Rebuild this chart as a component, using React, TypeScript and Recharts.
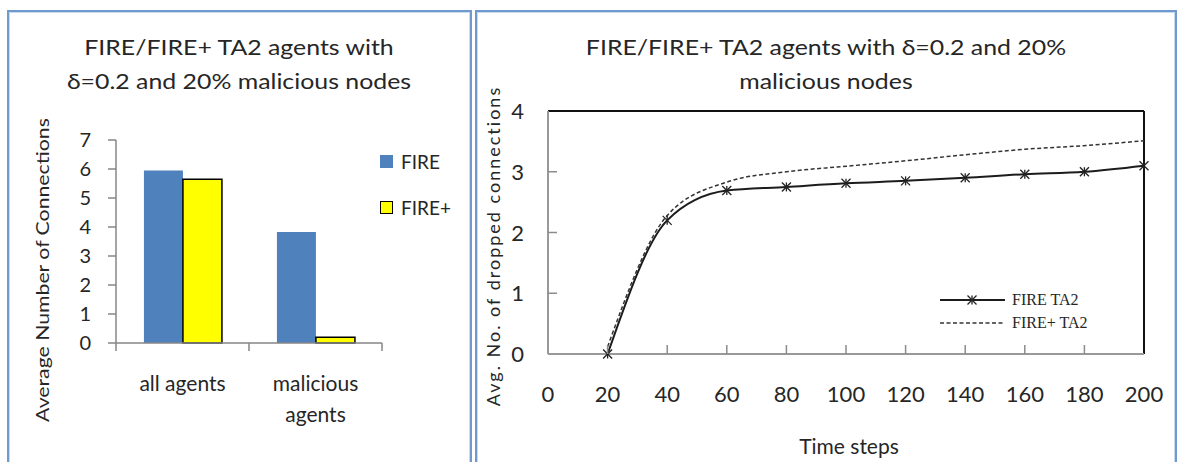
import React from 'react';
import {
  BarChart,
  Bar,
  LineChart,
  Line,
  XAxis,
  YAxis,
  ReferenceLine,
  Legend,
  Text,
} from 'recharts';

// ---- Bar chart data: average number of connections ----
const barCategories = ['all agents', 'malicious agents'];
const fireConnections = [5.95, 3.83];
const firePlusConnections = [5.65, 0.2];
const connectionTicks = [0, 1, 2, 3, 4, 5, 6, 7];

// ---- Line chart data: avg. dropped connections over time ----
const timeSteps = [20, 40, 60, 80, 100, 120, 140, 160, 180, 200];
const fireTa2Dropped = [0, 2.2, 2.69, 2.75, 2.81, 2.85, 2.9, 2.96, 3.0, 3.1];
const firePlusTa2Dropped = [0.12, 2.28, 2.83, 3.0, 3.09, 3.18, 3.28, 3.37, 3.43, 3.51];
const timeTicks = [0, 20, 40, 60, 80, 100, 120, 140, 160, 180, 200];
const droppedTicks = [0, 1, 2, 3, 4];

const barData = barCategories.map((category, i) => ({
  category,
  fire: fireConnections[i],
  firePlus: firePlusConnections[i],
}));

const lineData = timeSteps.map((step, i) => ({
  step,
  fireTa2: fireTa2Dropped[i],
  firePlusTa2: firePlusTa2Dropped[i],
}));

const SANS = 'Lato, "Open Sans", sans-serif';
const SERIF = '"Liberation Serif", "DejaVu Serif", serif';
const TEXT = '#262626';
const PANEL_BORDER = '#7099cd';

// left panel geometry
const L_W = 470;
const L_H = 462;
const L_PLOT = { left: 116, right: 382, top: 140, bottom: 343 };
const L_BAND = (L_PLOT.right - L_PLOT.left) / barCategories.length;

// right panel geometry
const R_X = 475;
const R_W = 707;
const R_H = 462;
const R_PLOT = { left: 548, right: 1144, top: 111, bottom: 354 };

const CategoryTick = (props: any) => {
  const { x, y, payload, index } = props;
  const last = index === barCategories.length - 1;
  return (
    <g>
      <line x1={x - L_BAND / 2} x2={x - L_BAND / 2} y1={y} y2={y + 8} stroke="#868686" strokeWidth={1.5} />
      {last && (
        <line x1={x + L_BAND / 2} x2={x + L_BAND / 2} y1={y} y2={y + 8} stroke="#868686" strokeWidth={1.5} />
      )}
      <Text
        x={x}
        y={y + 33}
        width={100}
        textAnchor="middle"
        verticalAnchor="start"
        lineHeight={31}
        style={{ fontFamily: SANS, fontSize: 21, fill: TEXT }}
      >
        {payload.value}
      </Text>
    </g>
  );
};

const TimeTick = (props: any) => {
  const { x, y, payload } = props;
  const v = payload.value;
  const inner = v > timeTicks[0] && v < timeTicks[timeTicks.length - 1];
  return (
    <g>
      {inner && <line x1={x} x2={x} y1={y} y2={y - 9} stroke="#8c8c8c" strokeWidth={1.5} />}
      <text x={x} y={y + 48} textAnchor="middle" style={{ fontFamily: SANS, fontSize: 22, fill: TEXT }}>
        {v}
      </text>
    </g>
  );
};

const DroppedTick = (props: any) => {
  const { x, y, payload } = props;
  const v = payload.value;
  const inner = v > droppedTicks[0] && v < droppedTicks[droppedTicks.length - 1];
  return (
    <g>
      {inner && <line x1={x} x2={x + 9} y1={y} y2={y} stroke="#8c8c8c" strokeWidth={1.5} />}
      <text x={x - 24} y={y + 8} textAnchor="end" style={{ fontFamily: SANS, fontSize: 22, fill: TEXT }}>
        {v}
      </text>
    </g>
  );
};

const StarDot = (props: any) => {
  const { cx, cy } = props;
  if (cx == null || cy == null) return null;
  const s = 4.5;
  return (
    <g stroke="#222" strokeWidth={1.3} fill="none">
      <line x1={cx - s} y1={cy - s} x2={cx + s} y2={cy + s} />
      <line x1={cx - s} y1={cy + s} x2={cx + s} y2={cy - s} />
      <line x1={cx} y1={cy - s} x2={cx} y2={cy + s} />
    </g>
  );
};

const BarLegend = (props: any) => {
  const items = props.payload || [];
  return (
    <div style={{ fontFamily: SANS, fontSize: 19, color: TEXT }}>
      {items.map((item: any, i: number) => (
        <div key={item.value} style={{ display: 'flex', alignItems: 'center', height: 46 }}>
          <span
            style={{
              display: 'inline-block',
              width: 13,
              height: 13,
              background: item.color,
              boxSizing: 'border-box',
              border: i === 1 ? '1.5px solid #000' : 'none',
              marginRight: 8,
            }}
          />
          {item.value}
        </div>
      ))}
    </div>
  );
};

const LineLegend = (props: any) => {
  const items = props.payload || [];
  return (
    <svg width={160} height={46} style={{ display: 'block' }}>
      {items.map((item: any, i: number) => {
        const y = 10 + i * 23;
        return (
          <g key={item.value}>
            <line
              x1={0}
              x2={65}
              y1={y}
              y2={y}
              stroke={i === 0 ? '#1c1c1c' : '#333'}
              strokeWidth={i === 0 ? 2 : 1.5}
              strokeDasharray={i === 0 ? undefined : '4 2.5'}
            />
            {i === 0 && <StarDot cx={32} cy={y} />}
            <text x={72} y={y + 5} style={{ fontFamily: SERIF, fontSize: 16, fill: TEXT }}>
              {item.value}
            </text>
          </g>
        );
      })}
    </svg>
  );
};

const titleStyle: React.CSSProperties = {
  position: 'absolute',
  transform: 'translateX(-50%) scaleX(1.13)',
  whiteSpace: 'nowrap',
  textAlign: 'center',
  fontFamily: SANS,
  fontSize: 22,
  lineHeight: '34px',
  color: TEXT,
};

export default function App() {
  return (
    <div style={{ position: 'absolute', left: 0, top: 0, width: 1182, height: 462, background: '#fff', overflow: 'hidden' }}>
      {/* panel frames */}
      <div
        style={{
          position: 'absolute',
          left: 7,
          top: 10,
          width: 465,
          height: 470,
          boxSizing: 'border-box',
          border: `2px solid ${PANEL_BORDER}`,
          boxShadow: 'inset 0 0 0 1px #c9d9ee',
        }}
      />
      <div
        style={{
          position: 'absolute',
          left: 475,
          top: 10,
          width: 702,
          height: 470,
          boxSizing: 'border-box',
          border: `2px solid ${PANEL_BORDER}`,
          boxShadow: 'inset 0 0 0 1px #c9d9ee',
        }}
      />

      {/* left panel */}
      <div style={{ ...titleStyle, left: 239, top: 30 }}>
        FIRE/FIRE+ TA2 agents with
        <br />
        δ=0.2 and 20% malicious nodes
      </div>
      <div
        style={{
          position: 'absolute',
          left: 42,
          top: 270,
          transform: 'translate(-50%, -50%) rotate(-90deg) scaleX(1.18)',
          whiteSpace: 'nowrap',
          fontFamily: SANS,
          fontSize: 18,
          color: TEXT,
        }}
      >
        Average Number of Connections
      </div>
      <div style={{ position: 'absolute', left: 0, top: 0 }}>
        <BarChart
          width={L_W}
          height={L_H}
          data={barData}
          margin={{ top: L_PLOT.top, right: L_W - L_PLOT.right, bottom: 0, left: 0 }}
          barCategoryGap="21%"
          barGap={0}
        >
          <XAxis
            dataKey="category"
            height={L_H - L_PLOT.bottom}
            tickSize={0}
            tickMargin={0}
            interval={0}
            axisLine={{ stroke: '#868686', strokeWidth: 1.5 }}
            tick={<CategoryTick />}
          />
          <YAxis
            width={L_PLOT.left}
            domain={[0, 7]}
            ticks={connectionTicks}
            interval={0}
            tickSize={8}
            tickMargin={17}
            axisLine={{ stroke: '#868686', strokeWidth: 1.5 }}
            tickLine={{ stroke: '#868686', strokeWidth: 1.5 }}
            tick={{ fontFamily: SANS, fontSize: 20, fill: TEXT }}
          />
          <Legend
            layout="horizontal"
            verticalAlign="middle"
            align="center"
            wrapperStyle={{ left: 380, top: 138, width: 90, height: 92 }}
            content={<BarLegend />}
          />
          <Bar dataKey="fire" name="FIRE" fill="#4f81bd" isAnimationActive={false} />
          <Bar
            dataKey="firePlus"
            name="FIRE+"
            fill="#ffff00"
            stroke="#000"
            strokeWidth={1.5}
            isAnimationActive={false}
          />
        </BarChart>
      </div>

      {/* right panel */}
      <div style={{ ...titleStyle, left: 826, top: 30 }}>
        FIRE/FIRE+ TA2 agents with δ=0.2 and 20%
        <br />
        malicious nodes
      </div>
      <div
        style={{
          position: 'absolute',
          left: 493,
          top: 246,
          transform: 'translate(-50%, -50%) rotate(-90deg)',
          whiteSpace: 'nowrap',
          fontFamily: SANS,
          fontSize: 18,
          letterSpacing: 2,
          color: TEXT,
        }}
      >
        Avg. No. of dropped connections
      </div>
      <div
        style={{
          position: 'absolute',
          left: 849,
          top: 445,
          transform: 'translate(-50%, -50%)',
          whiteSpace: 'nowrap',
          fontFamily: SANS,
          fontSize: 21,
          color: TEXT,
        }}
      >
        Time steps
      </div>
      <div style={{ position: 'absolute', left: R_X, top: 0 }}>
        <LineChart
          width={R_W}
          height={R_H}
          data={lineData}
          margin={{ top: R_PLOT.top, right: R_X + R_W - R_PLOT.right, bottom: 0, left: 0 }}
        >
          <XAxis
            type="number"
            dataKey="step"
            domain={[0, 200]}
            ticks={timeTicks}
            interval={0}
            height={R_H - R_PLOT.bottom}
            tickSize={0}
            tickMargin={0}
            axisLine={{ stroke: '#999', strokeWidth: 2 }}
            tick={<TimeTick />}
          />
          <YAxis
            domain={[0, 4]}
            ticks={droppedTicks}
            interval={0}
            width={R_PLOT.left - R_X}
            tickSize={0}
            tickMargin={0}
            axisLine={{ stroke: '#999', strokeWidth: 2 }}
            tick={<DroppedTick />}
          />
          <ReferenceLine y={4} stroke="#111" strokeWidth={2} />
          <ReferenceLine x={200} stroke="#111" strokeWidth={2} />
          <Legend
            layout="horizontal"
            verticalAlign="middle"
            align="center"
            wrapperStyle={{ left: 940 - R_X, top: 290, width: 160, height: 46 }}
            content={<LineLegend />}
          />
          <Line
            type="monotone"
            dataKey="fireTa2"
            name="FIRE TA2"
            stroke="#1c1c1c"
            strokeWidth={2}
            dot={<StarDot />}
            isAnimationActive={false}
          />
          <Line
            type="monotone"
            dataKey="firePlusTa2"
            name="FIRE+ TA2"
            stroke="#333"
            strokeWidth={1.5}
            strokeDasharray="4 2.5"
            dot={false}
            isAnimationActive={false}
          />
        </LineChart>
      </div>
    </div>
  );
}
